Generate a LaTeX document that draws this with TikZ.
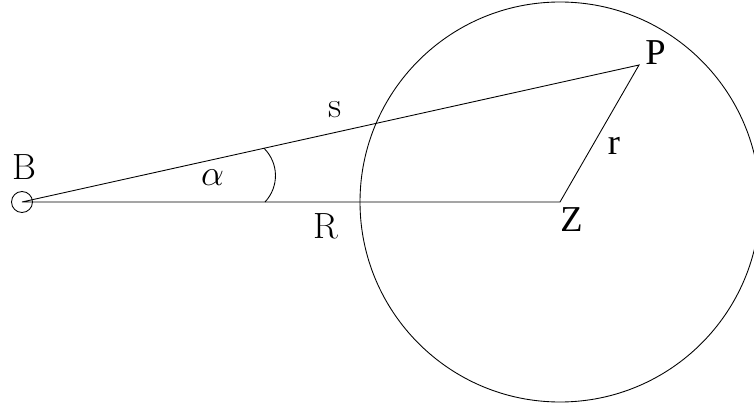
\documentclass[tikz,border=0pt]{standalone}
\usepackage{fontspec}
\newfontfamily\timesfont{Liberation Serif}
\usetikzlibrary{positioning}

\begin{document}
\begin{tikzpicture}[scale=1.0,line width=0.5pt,
  lbl/.style={font=\huge,inner sep=0pt},
  tlbl/.style={font=\huge\timesfont,inner sep=0pt}]
\useasboundingbox (-0.44,-4.1) rectangle (14.64,4.04);
\node[circle,draw,inner sep=0pt,minimum size=0.42cm] (B) at (0,0) {};
\node[lbl,above=0.22cm of B,xshift=0.04cm] (Blabel) {B};
\coordinate (Z) at (10.76,0);
\coordinate (P) at (12.34,2.74);
% triangle B--Z--P
\draw (B.center) -- (Z) -- (P) -- (B.center);
\draw (Z) circle[radius=4];
% angle mark
\coordinate (a1) at (4.86,0);
\coordinate (a2) at (4.84,1.075);
\draw (a1) to[bend right=44] (a2);
\node[lbl] (alpha) at (3.81,0.48) {$\alpha$};
\node[lbl] (s) at (6.26,1.84) {s};
\node[lbl] (R) at (6.08,-0.48) {R};
\node[tlbl] (r) at (11.84,1.12) {r};
\node[tlbl,above right=0cm and 0.12cm of P] (Plabel) {P};
\node[tlbl,below right=0.1cm and 0cm of Z] (Zlabel) {Z};
\end{tikzpicture}
\end{document}
